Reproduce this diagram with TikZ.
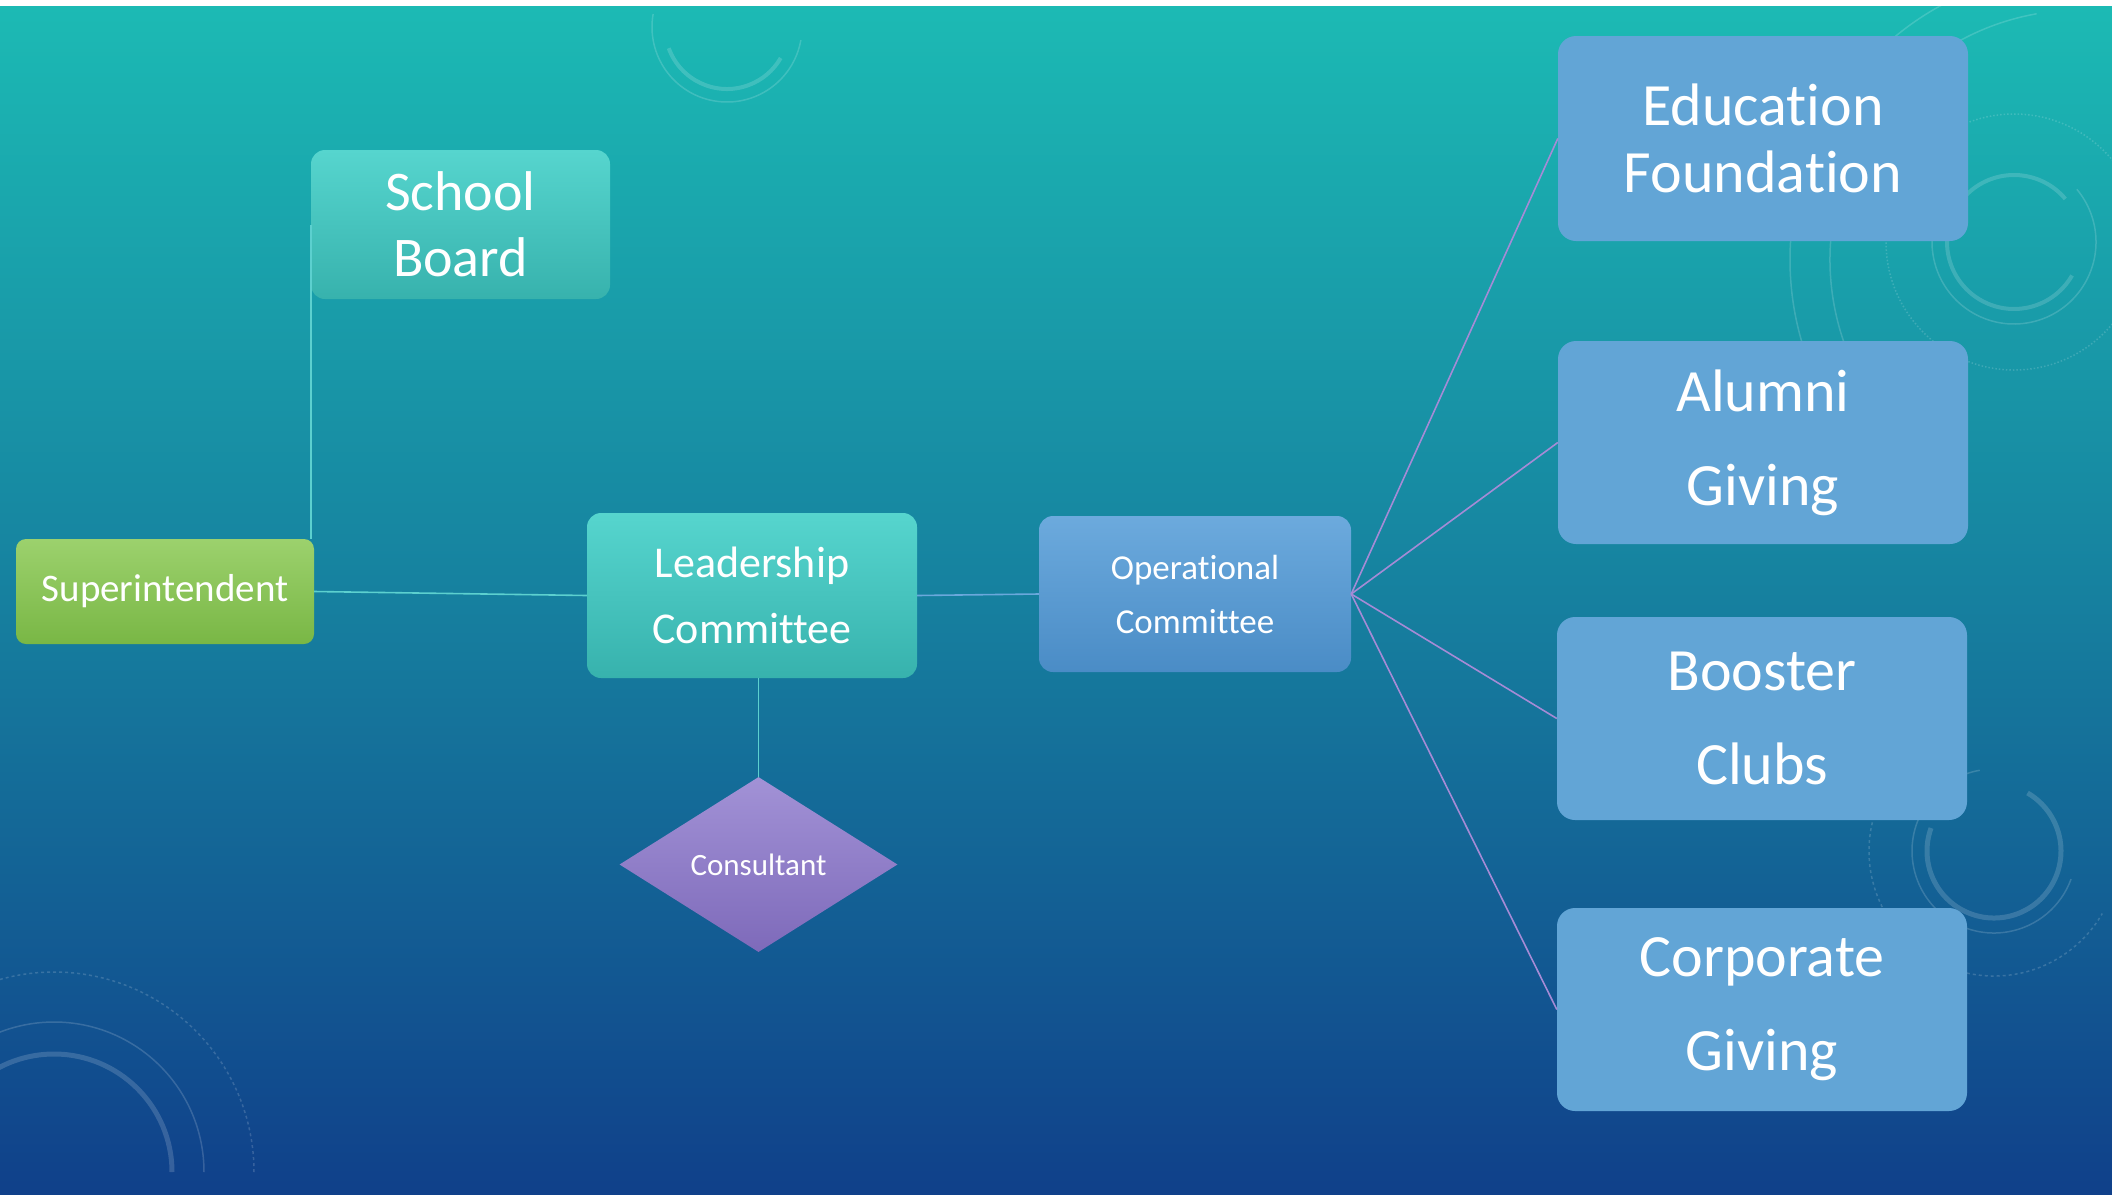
\documentclass[tikz,border=0pt]{standalone}
\usepackage{fontspec}
\setmainfont{Carlito}[Ligatures={NoCommon,NoContextual}]
\usetikzlibrary{shapes.geometric}
\definecolor{bgtop}{HTML}{1CBAB4}
\definecolor{bgmid}{HTML}{16809F}
\definecolor{bgbot}{HTML}{10408A}
\definecolor{tealtop}{HTML}{56D5CE}
\definecolor{tealbot}{HTML}{37B2AD}
\definecolor{greentop}{HTML}{9CD16D}
\definecolor{greenbot}{HTML}{79B745}
\definecolor{optop}{HTML}{6CAADD}
\definecolor{opbot}{HTML}{4A8CC6}
\definecolor{purptop}{HTML}{A292D6}
\definecolor{purpbot}{HTML}{7E6ABA}
\definecolor{rightblue}{HTML}{62A5D6}
\definecolor{tealline}{HTML}{5CD0CF}
\definecolor{blueline}{HTML}{6AA8DC}
\definecolor{purpline}{HTML}{A58BD6}
\begin{document}
\begin{tikzpicture}[x=1pt,y=1pt,
  box/.style={rounded corners=14pt, text=white, align=center, inner sep=0pt, draw=none},
  bigbox/.style={box, rounded corners=18pt, fill=rightblue, minimum width=410pt, minimum height=203pt},
  tealbox/.style={box, top color=tealtop, bottom color=tealbot},
  conn/.style={line width=1.6pt},
  deco/.style={draw=white, draw opacity=0.16}
]
% background
\fill[white] (0,0) rectangle (2112,-1200);
\shade[top color=bgtop, bottom color=bgbot, middle color=bgmid] (0,-6) rectangle (2112,-1194);
\begin{scope}
\clip (0,-6) rectangle (2112,-1194);
% top centre
\draw[deco, line width=4pt] (727,-27) ++(200:62) arc (200:330:62);
\draw[deco, line width=1.5pt] (727,-27) ++(170:75) arc (170:350:75);
% top right
\draw[deco, line width=4pt] (2014,-242) ++(40:67) arc (40:330:67);
\draw[deco, line width=1.5pt] (2014,-242) ++(150:82) arc (150:400:82);
\draw[deco, line width=1.5pt, dotted] (2014,-242) circle (128);
\draw[deco, line width=1.5pt] (2080,-260) ++(95:290) arc (95:230:290);
\draw[deco, line width=1.5pt] (2080,-260) ++(100:250) arc (100:225:250);
% right middle
\draw[deco, line width=5pt] (1994,-851) ++(160:67) arc (160:420:67);
\draw[deco, line width=1.5pt] (1994,-851) ++(100:82) arc (100:340:82);
\draw[deco, line width=1.5pt, dashed] (1994,-851) ++(120:125) arc (120:330:125);
% bottom left
\draw[deco, line width=5pt] (54,-1172) ++(0:118) arc (0:120:118);
\draw[deco, line width=1.5pt] (54,-1172) ++(0:150) arc (0:125:150);
\draw[deco, line width=1.5pt, dashed] (54,-1172) ++(0:200) arc (0:118:200);
\end{scope}

% nodes
\node[tealbox, minimum width=299pt, minimum height=149pt, font=\fontsize{56}{66}\selectfont] (sb) at (460.5,-224.5) {School\\Board};
\node[box, top color=greentop, bottom color=greenbot, rounded corners=10pt, minimum width=298pt, minimum height=105pt, font=\fontsize{39}{47}\selectfont] (sup) at (165,-591.5) {Superintendent};
\node[tealbox, minimum width=330pt, minimum height=165pt, font=\fontsize{44}{66}\selectfont] (lc) at (752,-595.5) {Leadership\\Committee};
\node[box, top color=optop, bottom color=opbot, minimum width=312pt, minimum height=156pt, font=\fontsize{35}{54}\selectfont] (oc) at (1195,-594) {Operational\\Committee};
\node[diamond, draw=none, inner sep=0pt, top color=purptop, bottom color=purpbot, text=white, minimum width=278pt, minimum height=175pt, font=\fontsize{31}{37}\selectfont] (cons) at (758.5,-864.5) {Consultant};
\node[bigbox, minimum height=205pt, font=\fontsize{60}{67}\selectfont] (ef) at (1763,-138.5) {Education\\Foundation};
\node[bigbox, font=\fontsize{60}{94}\selectfont] (ag) at (1763,-442.5) {Alumni\\Giving};
\node[bigbox, font=\fontsize{60}{94}\selectfont] (bc) at (1762,-718.5) {Booster\\Clubs};
\node[bigbox, font=\fontsize{60}{94}\selectfont] (cg) at (1762,-1009.5) {Corporate\\Giving};

% connectors
\coordinate (j) at (sb.west |- sup.north);
\coordinate (ls) at (cons.north |- lc.south);
\draw[conn, tealline] (sb.west) -- (j);
\draw[conn, tealline] (sup.east) -- (lc.west);
\draw[conn, tealline] (ls) -- (cons.north);
\draw[conn, blueline] (lc.east) -- (oc.west);
\foreach \t in {ef,ag,bc,cg}{
  \draw[conn, purpline] (oc.east) -- (\t.west);
}
\end{tikzpicture}
\end{document}
